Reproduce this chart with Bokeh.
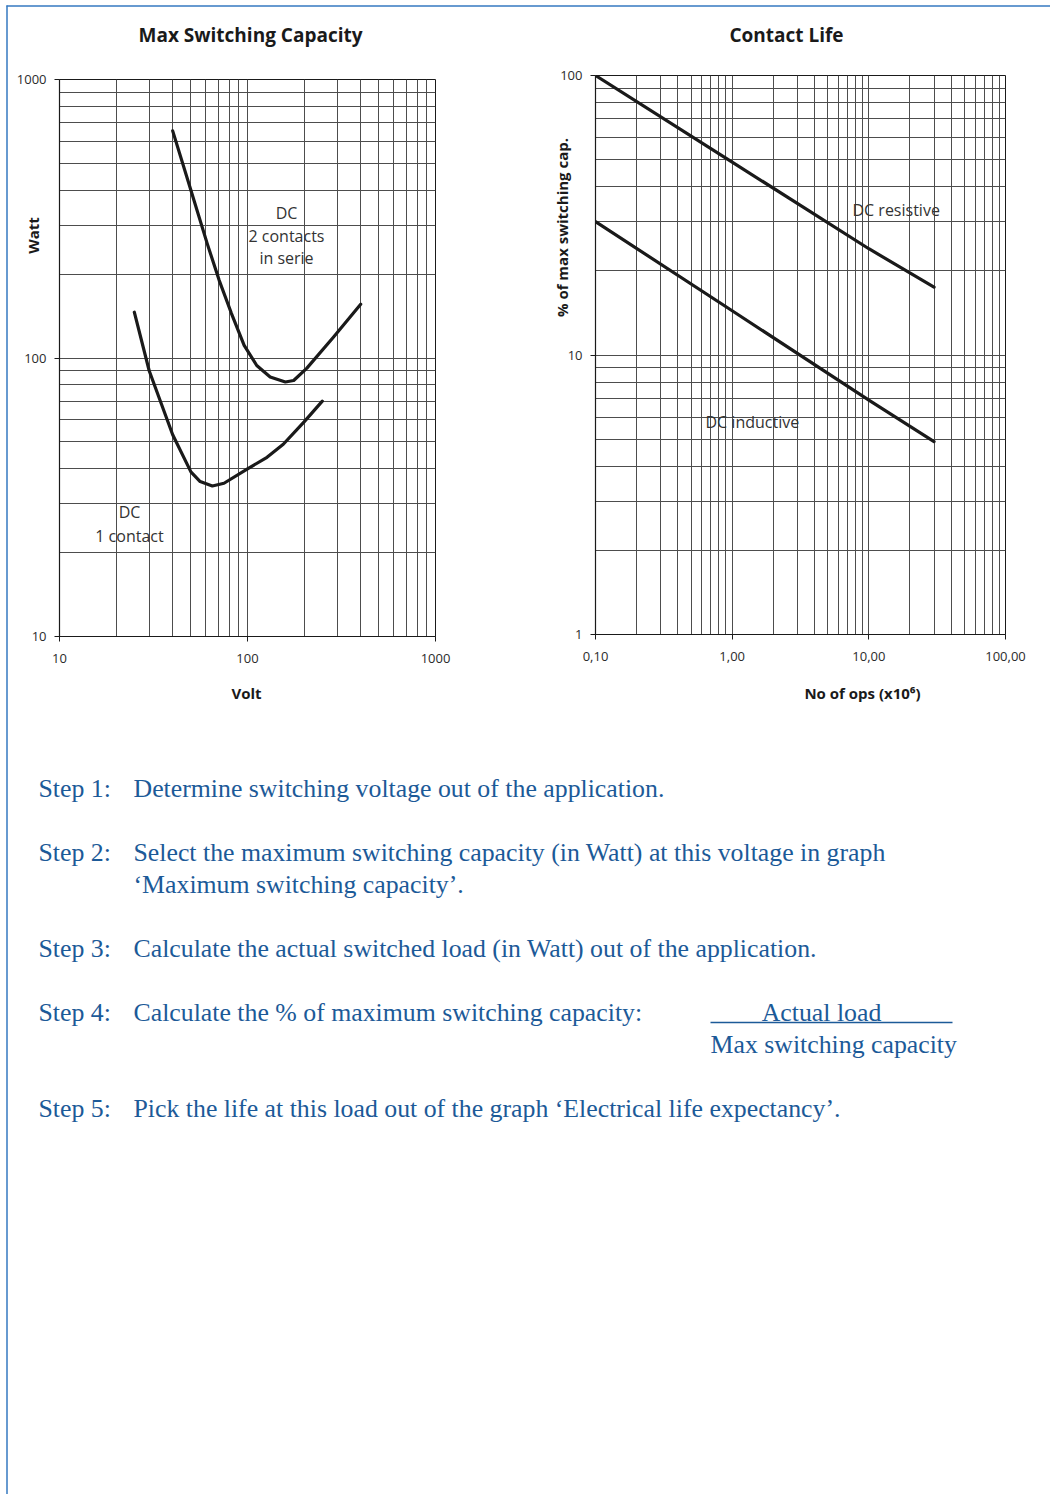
import math
from bokeh.plotting import figure
from bokeh.models import Range1d, FixedTicker, Label, GridBox
from bokeh.embed import file_html
from bokeh.resources import INLINE
from bokeh.core.properties import value

# ---------------- data ----------------
# Max switching capacity (Watt vs Volt)
volt_1_contact = [25, 30, 40, 50, 56, 65, 75, 100, 127, 155, 200, 250]
watt_1_contact = [146, 90, 53, 39, 36, 34.7, 35.5, 40, 44, 49, 59, 70]
volt_2_contacts = [40, 50, 61, 70.7, 82, 96, 112, 132, 159, 176, 207, 287, 400]
watt_2_contacts = [654, 400, 258, 190, 145, 111, 94, 85.5, 82, 83, 92, 119, 156]

# Contact life (% of max switching cap. vs number of operations x10^6)
ops_millions = [0.1, 1, 10, 30]
pct_dc_resistive = [100, 49, 24, 17.5]
pct_dc_inductive = [30, 14.4, 6.9, 4.9]

volt_ticks = [10, 100, 1000]
volt_tick_labels = ["10", "100", "1000"]
watt_ticks = [10, 100, 1000]
watt_tick_labels = ["10", "100", "1000"]
ops_ticks = [0.1, 1, 10, 100]
ops_tick_labels = ["0,10", "1,00", "10,00", "100,00"]
pct_ticks = [1, 10, 100]
pct_tick_labels = ["1", "10", "100"]

chart_titles = ["Max Switching Capacity", "Contact Life"]
x_titles = ["Volt", "No of ops (x10\u2076)"]
y_titles = ["Watt", "% of max switching cap."]

step_labels = ["Step 1:", "Step 2:", "Step 3:", "Step 4:", "Step 5:"]
step_lines = [
    "Determine switching voltage out of the application.",
    "Select the maximum switching capacity (in Watt) at this voltage in graph",
    "\u2018Maximum switching capacity\u2019.",
    "Calculate the actual switched load (in Watt) out of the application.",
    "Calculate the % of maximum switching capacity:",
    "Pick the life at this load out of the graph \u2018Electrical life expectancy\u2019.",
]
fraction_top = "Actual load"
fraction_bottom = "Max switching capacity"

# ---------------- styles ----------------
SANS = "Open Sans"
SERIF = "Liberation Serif"
INK = "#1a1a1a"
GRID = "#4d4d4d"
TICK_TXT = "#2b2b2b"
BLUE = "#1c5a98"
FRAME_BLUE = "#3479c0"
PAGE_W, PAGE_H = 1050, 1494


def log_lines(lo_exp, hi_exp):
    out = []
    for k in range(lo_exp, hi_exp):
        for m in range(1, 10):
            out.append(m * 10 ** k)
    out.append(10 ** hi_exp)
    return out


def style_log_fig(p, xt, xl, yt, yl, xgrid, ygrid):
    p.xaxis.ticker = FixedTicker(ticks=xt)
    p.yaxis.ticker = FixedTicker(ticks=yt)
    p.xaxis.major_label_overrides = {t: l for t, l in zip(xt, xl)}
    p.yaxis.major_label_overrides = {t: l for t, l in zip(yt, yl)}
    p.xgrid.ticker = FixedTicker(ticks=xgrid)
    p.ygrid.ticker = FixedTicker(ticks=ygrid)
    for g in (p.xgrid, p.ygrid):
        g.grid_line_color = GRID
        g.grid_line_width = 1
    for ax in (p.xaxis, p.yaxis):
        ax.axis_line_color = INK
        ax.axis_line_width = 1.2
        ax.major_tick_line_color = INK
        ax.major_tick_in = 0
        ax.major_tick_out = 5
        ax.minor_tick_line_color = None
        ax.major_label_text_font = SANS
        ax.major_label_text_font_size = "13px"
        ax.major_label_text_color = TICK_TXT
    p.xaxis.major_label_standoff = 12
    p.yaxis.major_label_standoff = 8
    p.outline_line_color = INK
    p.background_fill_color = "white"
    p.border_fill_color = None
    p.frame_align = False


def add_label(p, x, y, text, align="center"):
    p.add_layout(Label(x=x, y=y, x_units="screen", y_units="screen",
                       text=text, text_font=SANS, text_font_size="16px",
                       text_color="#333333", text_align=align,
                       text_baseline="middle"))


# ---------------- page background (texts, frame line) ----------------
bg = figure(width=PAGE_W, height=PAGE_H,
            x_range=Range1d(0, PAGE_W), y_range=Range1d(PAGE_H, 0),
            min_border=0, toolbar_location=None, output_backend="svg",
            x_axis_location=None, y_axis_location=None)
bg.frame_align = False
bg.grid.visible = False
bg.outline_line_color = None
bg.background_fill_color = "white"
bg.border_fill_color = "white"

# thin blue page frame (left and top)
bg.line(x=[6.5, 6.5], y=[5, PAGE_H], line_color=FRAME_BLUE, line_width=1.5)
bg.line(x=[6, PAGE_W], y=[5.5, 5.5], line_color=FRAME_BLUE, line_width=1.5)

# chart titles and axis titles
bg.text(x=[250, 786], y=[34, 34], text=chart_titles,
        text_font=value(SANS), text_font_size="19px", text_font_style="bold",
        text_color=INK, text_align="center", text_baseline="middle")
bg.text(x=[246, 862], y=[692, 692], text=x_titles,
        text_font=value(SANS), text_font_size="15px", text_font_style="bold",
        text_color=INK, text_align="center", text_baseline="middle")
bg.text(x=[32, 561], y=[235, 227], text=y_titles, angle=math.pi / 2,
        text_font=value(SANS), text_font_size="15px", text_font_style="bold",
        text_color=INK, text_align="center", text_baseline="middle")

# instruction steps
FS = "25.8px"
bg.text(x=[38] * len(step_labels), y=[788, 852, 948, 1012, 1108],
        text=step_labels, text_font=value(SERIF), text_font_size=FS,
        text_color=BLUE, text_baseline="middle", text_align="left")
bg.text(x=[133] * len(step_lines), y=[788, 852, 884, 948, 1012, 1108],
        text=step_lines, text_font=value(SERIF), text_font_size=FS,
        text_color=BLUE, text_baseline="middle", text_align="left")
bg.text(x=[821], y=[1012], text=[fraction_top],
        text_font=value(SERIF), text_font_size=FS, text_color=BLUE,
        text_baseline="middle", text_align="center")
bg.text(x=[710], y=[1044], text=[fraction_bottom],
        text_font=value(SERIF), text_font_size=FS, text_color=BLUE,
        text_baseline="middle", text_align="left")
bg.line(x=[710, 952], y=[1022, 1022], line_color=BLUE, line_width=1.5)

# ---------------- left chart ----------------
p1 = figure(x_axis_type="log", y_axis_type="log",
            x_range=Range1d(10, 1000), y_range=Range1d(10, 1000),
            frame_width=376, frame_height=557,
            min_border_left=59, min_border_right=85,
            min_border_top=79, min_border_bottom=84,
            toolbar_location=None, output_backend="svg")
style_log_fig(p1, volt_ticks, volt_tick_labels, watt_ticks, watt_tick_labels,
              log_lines(1, 3), log_lines(1, 3))
p1.line(volt_1_contact, watt_1_contact, line_color=INK, line_width=3.2,
        line_join="round", line_cap="round")
p1.line(volt_2_contacts, watt_2_contacts, line_color=INK, line_width=3.2,
        line_join="round", line_cap="round")
add_label(p1, 227, 424, "DC")
add_label(p1, 227, 401, "2 contacts")
add_label(p1, 227, 379, "in serie")
add_label(p1, 70, 125, "DC")
add_label(p1, 70, 101, "1 contact")

# ---------------- right chart ----------------
p2 = figure(x_axis_type="log", y_axis_type="log",
            x_range=Range1d(0.1, 100), y_range=Range1d(1, 100),
            frame_width=410, frame_height=559,
            min_border_left=75, min_border_right=45,
            min_border_top=75, min_border_bottom=86,
            toolbar_location=None, output_backend="svg")
style_log_fig(p2, ops_ticks, ops_tick_labels, pct_ticks, pct_tick_labels,
              log_lines(-1, 2), log_lines(0, 2))
p2.line(ops_millions, pct_dc_resistive, line_color=INK, line_width=3.2,
        line_cap="round")
p2.line(ops_millions, pct_dc_inductive, line_color=INK, line_width=3.2,
        line_cap="round")
add_label(p2, 257, 425, "DC resistive", align="left")
add_label(p2, 110, 213, "DC inductive", align="left")

layout = GridBox(children=[(bg, 0, 0, 1, 2), (p1, 0, 0), (p2, 0, 1)],
                 spacing=0)

open("out.html", "w").write(file_html(layout, INLINE))
